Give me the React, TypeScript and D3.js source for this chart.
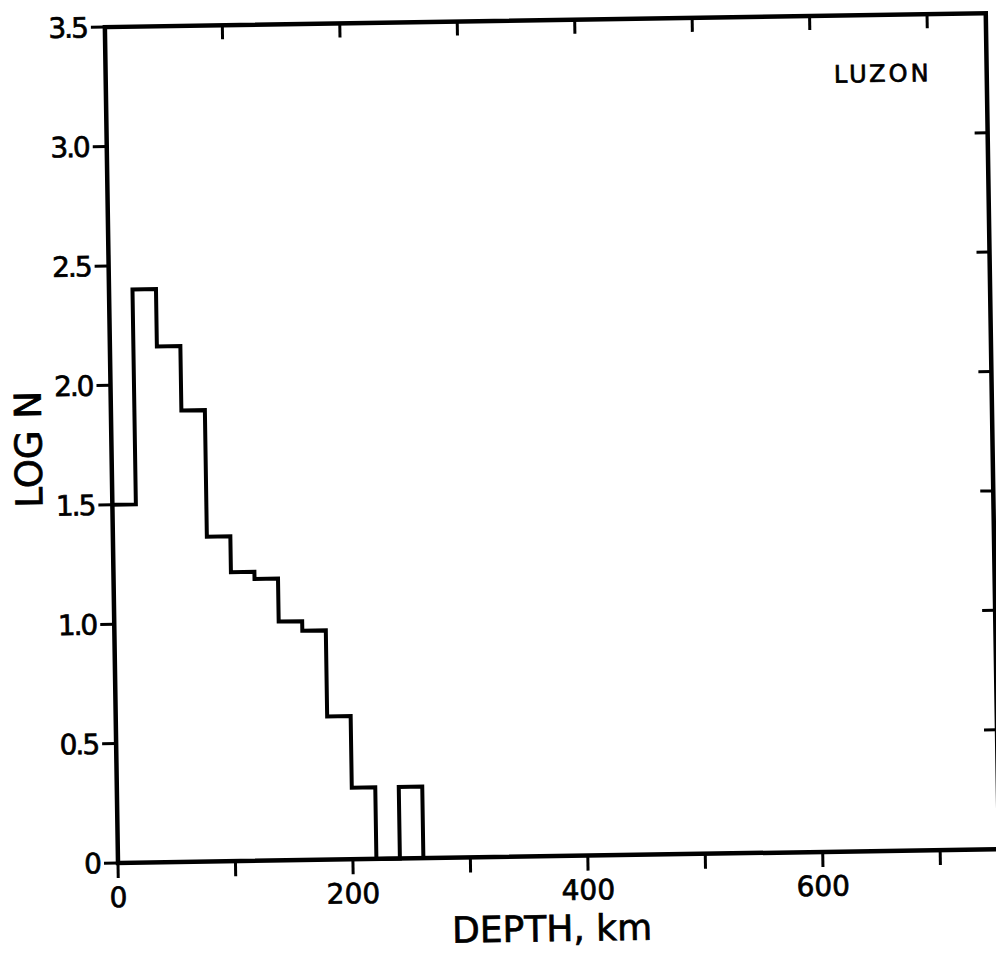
import React from 'react';
import * as d3 from 'd3';

// Depth histogram (20 km bins), LOG N values
const binStarts = [0, 20, 40, 60, 80, 100, 120, 140, 160, 180, 200, 220, 240];
const logN = [1.5, 2.4, 2.16, 1.89, 1.36, 1.21, 1.18, 1.0, 0.96, 0.6, 0.3, 0, 0.3];
const binWidth = 20;

const xTicks = [0, 100, 200, 300, 400, 500, 600, 700];
const xTickLabels = ['0', '', '200', '', '400', '', '600', ''];
const yTicks = [0, 0.5, 1.0, 1.5, 2.0, 2.5, 3.0, 3.5];
const yTickLabels = ['0', '0.5', '1.0', '1.5', '2.0', '2.5', '3.0', '3.5'];

const W = 996;
const H = 956;
const left = 118;
const bottom = 863;
const plotW = 881;
const plotH = 836;
const FONT = '"DejaVu Sans", sans-serif';

export default function App() {
  const x = d3.scaleLinear().domain([0, 750]).range([left, left + plotW]);
  const y = d3.scaleLinear().domain([0, 3.5]).range([bottom, bottom - plotH]);

  const pts: [number, number][] = binStarts.map((b, i) => [b, logN[i]]);
  pts.push([binStarts[binStarts.length - 1] + binWidth, 0]);
  const line = d3
    .line<[number, number]>()
    .x((d) => x(d[0]))
    .y((d) => y(d[1]))
    .curve(d3.curveStepAfter);

  const x0 = x(0), x1 = x(750), y0 = y(0), y1 = y(3.5);

  return (
    <svg width={W} height={H} style={{ position: 'absolute', left: 0, top: 0, background: '#fff' }}>
      <rect x={0} y={0} width={W} height={H} fill="#fff" />
      <g transform={`rotate(-0.9, ${left}, ${bottom})`} fontFamily={FONT} fill="#000" stroke="#000" strokeWidth={0.7}>
        {/* frame */}
        <rect x={x0} y={y1} width={x1 - x0} height={y0 - y1} fill="none" stroke="#000" strokeWidth={4.5} />
        {/* bottom ticks (outward) and top ticks (inward) */}
        {xTicks.map((t, i) => (
          <g key={'xt' + i}>
            <line x1={x(t)} x2={x(t)} y1={y0} y2={y0 + 15} stroke="#000" strokeWidth={3} />
            {t > 0 && <line x1={x(t)} x2={x(t)} y1={y1} y2={y1 + 14} stroke="#000" strokeWidth={3} />}
            {xTickLabels[i] && (
              <text x={x(t)} y={y0 + 44} textAnchor="middle" fontSize={28}>
                {xTickLabels[i]}
              </text>
            )}
          </g>
        ))}
        {/* left ticks (outward) and right ticks (inward) */}
        {yTicks.map((t, i) => (
          <g key={'yt' + i}>
            <line x1={x0 - 14} x2={x0} y1={y(t)} y2={y(t)} stroke="#000" strokeWidth={3} />
            {t > 0 && t < 3.5 && (
              <line x1={x1 - 13} x2={x1} y1={y(t)} y2={y(t)} stroke="#000" strokeWidth={3} />
            )}
            <text x={x0 - 18} y={y(t)} dy="0.36em" textAnchor="end" fontSize={28} letterSpacing={-2}>
              {yTickLabels[i]}
            </text>
          </g>
        ))}
        {/* histogram */}
        <path d={line(pts) || ''} fill="none" stroke="#000" strokeWidth={4} strokeLinejoin="miter" />
        {/* labels */}
        <text x={551} y={948} textAnchor="middle" fontSize={36}>
          DEPTH, km
        </text>
        <text transform={`translate(48, 448) rotate(-90)`} textAnchor="middle" fontSize={37}>
          LOG N
        </text>
        <text x={895} y={94} textAnchor="middle" fontSize={24} letterSpacing={3}>
          LUZON
        </text>
      </g>
    </svg>
  );
}
